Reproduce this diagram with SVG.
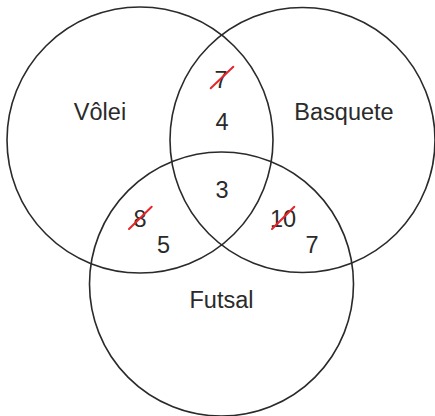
<svg xmlns="http://www.w3.org/2000/svg" width="435" height="416" viewBox="0 0 435 416">
<style>
.c{fill:none;stroke:#2a2a2a;stroke-width:1.6}
.t{font-family:"Liberation Sans",Arial,sans-serif;font-size:23.5px;fill:#2a2a2a;text-anchor:middle}
.x{stroke:#e8242b;stroke-width:2;stroke-linecap:round}
</style>
<rect width="435" height="416" fill="#fff"/>
<g id="volei"><circle class="c" cx="140" cy="140" r="133"/><text class="t" x="100" y="120">Vôlei</text></g>
<g id="basquete"><circle class="c" cx="302.5" cy="140" r="132.5"/><text class="t" x="344" y="120">Basquete</text></g>
<g id="futsal"><circle class="c" cx="221.5" cy="284" r="132"/><text class="t" x="221.5" y="308">Futsal</text></g>
<g id="counts">
<text class="t" x="221" y="88">7</text>
<line class="x" x1="210.7" y1="88.3" x2="233.3" y2="66.7"/>
<text class="t" x="222" y="130">4</text>
<text class="t" x="222" y="198">3</text>
<text class="t" x="140" y="227">8</text>
<line class="x" x1="129" y1="229" x2="151.7" y2="206.7"/>
<text class="t" x="163.5" y="253">5</text>
<text class="t" x="283" y="227">10</text>
<line class="x" x1="272" y1="229" x2="294.3" y2="206.7"/>
<text class="t" x="312" y="253">7</text>
</g>
<g id="connectors"/>
</svg>
